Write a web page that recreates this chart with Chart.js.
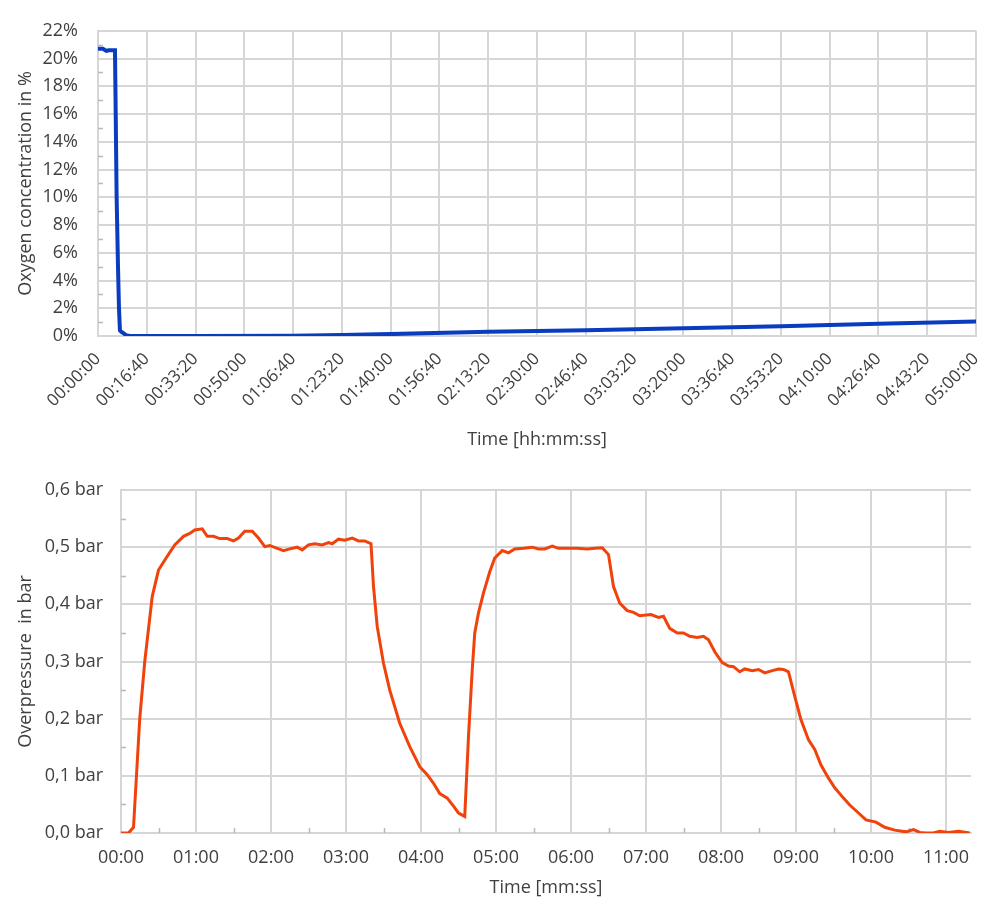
<!DOCTYPE html>
<html>
<head>
<meta charset="utf-8">
<title>Oxygen concentration and overpressure</title>
<script src="https://cdn.jsdelivr.net/npm/chart.js@4.4.1/dist/chart.umd.min.js"></script>
<style>
  html, body { margin: 0; padding: 0; background: #fff; }
  #wrap { position: relative; width: 992px; height: 906px; }
  canvas { position: absolute; left: 0; }
  #oxygenChart { top: 0; }
  #pressureChart { top: 460px; }
</style>
</head>
<body>
<div id="wrap">
  <canvas id="oxygenChart" width="992" height="460"></canvas>
  <canvas id="pressureChart" width="992" height="446"></canvas>
</div>
<script>
// ---------- DATA ----------
// top chart: time in seconds, oxygen in %
const oxygenTimes = [0, 100, 170, 220, 348, 360, 382, 410, 430, 450, 480, 520, 580, 650,
  2000, 4000, 5000, 6000, 8000, 10000, 12000, 14000, 16000, 18000];
const oxygenValues = [20.7, 20.7, 20.55, 20.6, 20.6, 17, 10, 5, 2, 0.4, 0.3, 0.2, 0.05, 0,
  0, 0.02, 0.08, 0.14, 0.3, 0.42, 0.55, 0.7, 0.88, 1.05];
const oxygenMinorTicks = [1, 3, 5, 7, 9, 11, 13, 15, 17, 19, 21];

// bottom chart: time in seconds, overpressure in bar
const pressureTimes = [0, 6, 10, 15, 19, 25, 30, 37, 43, 50, 55, 59, 65, 69, 74, 79, 85, 90, 94, 99,
  105, 110, 115, 119, 125, 130, 135, 141, 145, 150, 155, 161, 166, 169, 174, 179, 185, 190, 195, 200,
  202, 205, 210, 215, 223, 231, 239, 245, 250, 255, 261, 266, 270, 275, 278, 281, 283, 286, 290, 295,
  299, 305, 310, 315, 322, 329, 334, 339, 345, 350, 357, 365, 373, 379, 385, 390, 394, 399, 405, 410,
  415, 424, 430, 434, 439, 445, 450, 455, 461, 466, 470, 475, 481, 486, 490, 495, 499, 505, 510, 515,
  521, 526, 530, 534, 539, 544, 550, 555, 560, 566, 571, 578, 583, 590, 596, 604, 611, 619, 628, 634,
  639, 644, 650, 655, 662, 670, 679];
const pressureValues = [0, 0, 0.01, 0.2, 0.3, 0.414, 0.46, 0.484, 0.504, 0.519, 0.524, 0.53, 0.532, 0.519, 0.519, 0.515, 0.515, 0.511, 0.516, 0.528,
  0.528, 0.516, 0.501, 0.503, 0.498, 0.494, 0.497, 0.5, 0.495, 0.504, 0.506, 0.504, 0.508, 0.506, 0.514, 0.512, 0.516, 0.511, 0.511, 0.506,
  0.431, 0.361, 0.297, 0.25, 0.192, 0.151, 0.116, 0.102, 0.087, 0.069, 0.061, 0.047, 0.035, 0.029, 0.169, 0.286, 0.35, 0.385, 0.42, 0.457,
  0.481, 0.494, 0.49, 0.497, 0.498, 0.5, 0.497, 0.497, 0.502, 0.498, 0.498, 0.498, 0.497, 0.498, 0.499, 0.487, 0.431, 0.402, 0.389, 0.386,
  0.38, 0.382, 0.377, 0.379, 0.358, 0.35, 0.35, 0.344, 0.342, 0.344, 0.338, 0.317, 0.298, 0.292, 0.291, 0.282, 0.287, 0.284, 0.286, 0.28,
  0.284, 0.287, 0.286, 0.282, 0.239, 0.198, 0.163, 0.146, 0.119, 0.096, 0.079, 0.061, 0.049, 0.035, 0.023, 0.019, 0.01, 0.005, 0.002, 0.006,
  0.001, 0, 0, 0.003, 0.001, 0.003, 0];
const pressureMinorY = [0.05, 0.15, 0.25, 0.35, 0.45, 0.55];
const pressureMinorX = [30, 90, 150, 210, 270, 330, 390, 450, 510, 570, 630];

// ---------- HELPERS ----------
const FONT = "'Open Sans', sans-serif";
const TEXT = "#404040";
const GRID = "#d6d6d6";

function pad2(n) { return String(n).padStart(2, "0"); }
function hhmmss(s) {
  return pad2(Math.floor(s / 3600)) + ":" + pad2(Math.floor(s % 3600 / 60)) + ":" + pad2(s % 60);
}
function mmss(s) { return pad2(Math.floor(s / 60)) + ":" + pad2(s % 60); }

// Excel-like inside minor tick marks
const minorTicks = {
  id: "minorTicks",
  beforeDatasetsDraw(chart, args, opts) {
    const { ctx, chartArea, scales } = chart;
    ctx.save();
    ctx.strokeStyle = "#b8b8b8";
    ctx.lineWidth = 1.5;
    ctx.beginPath();
    (opts.y || []).forEach(v => {
      const py = Math.round(scales.y.getPixelForValue(v)) + 0.5;
      ctx.moveTo(chartArea.left, py);
      ctx.lineTo(chartArea.left + 5, py);
    });
    (opts.x || []).forEach(v => {
      const px = Math.round(scales.x.getPixelForValue(v)) + 0.5;
      ctx.moveTo(px, chartArea.bottom);
      ctx.lineTo(px, chartArea.bottom - 5);
    });
    ctx.stroke();
    ctx.restore();
  }
};

// ---------- OXYGEN CHART ----------
new Chart(document.getElementById("oxygenChart"), {
  type: "line",
  data: {
    datasets: [{
      data: oxygenTimes.map((t, i) => ({ x: t, y: oxygenValues[i] })),
      borderColor: "#0a3cc0",
      borderWidth: 4,
      pointRadius: 0,
      tension: 0
    }]
  },
  options: {
    responsive: false,
    animation: false,
    layout: { padding: { left: 15, right: 16, top: 20, bottom: 9 } },
    plugins: {
      legend: { display: false },
      tooltip: { enabled: false },
      minorTicks: { y: oxygenMinorTicks }
    },
    scales: {
      x: {
        type: "linear",
        min: 0,
        max: 18000,
        afterFit: s => { s.height = 115; s.paddingRight = 0; },
        grid: { color: GRID, lineWidth: 2, drawTicks: false },
        border: { color: GRID, width: 2 },
        ticks: {
          stepSize: 1000,
          minRotation: 45,
          maxRotation: 45,
          padding: 13,
          color: TEXT,
          font: { family: FONT, size: 17 },
          callback: v => hhmmss(v)
        },
        title: { display: true, text: "Time [hh:mm:ss]", color: TEXT, font: { family: FONT, size: 18 }, padding: 0 }
      },
      y: {
        min: 0,
        max: 22,
        afterFit: s => { s.width = 83; },
        grid: { color: GRID, lineWidth: 2, drawTicks: false },
        border: { color: GRID, width: 2 },
        ticks: {
          stepSize: 2,
          padding: 20,
          color: TEXT,
          font: { family: FONT, size: 18 },
          callback: v => v + "%"
        },
        title: { display: true, text: "Oxygen concentration in %", color: TEXT, font: { family: FONT, size: 18 }, padding: 0 }
      }
    }
  },
  plugins: [minorTicks]
});

// ---------- PRESSURE CHART ----------
new Chart(document.getElementById("pressureChart"), {
  type: "line",
  data: {
    datasets: [{
      data: pressureTimes.map((t, i) => ({ x: t, y: pressureValues[i] })),
      borderColor: "#f0420a",
      borderWidth: 3,
      pointRadius: 0,
      tension: 0
    }]
  },
  options: {
    responsive: false,
    animation: false,
    layout: { padding: { left: 15, right: 21, top: 30, bottom: 7 } },
    plugins: {
      legend: { display: false },
      tooltip: { enabled: false },
      minorTicks: { y: pressureMinorY, x: pressureMinorX }
    },
    scales: {
      x: {
        type: "linear",
        min: 0,
        max: 680,
        afterFit: s => { s.height = 66; s.paddingRight = 0; s.paddingLeft = 0; },
        grid: { color: GRID, lineWidth: 2, drawTicks: false },
        border: { color: GRID, width: 2 },
        ticks: {
          stepSize: 60,
          includeBounds: false,
          maxRotation: 0,
          autoSkip: false,
          padding: 14,
          color: TEXT,
          font: { family: FONT, size: 18 },
          callback: v => mmss(v)
        },
        title: { display: true, text: "Time [mm:ss]", color: TEXT, font: { family: FONT, size: 18 }, padding: 0 }
      },
      y: {
        min: 0,
        max: 0.6,
        afterFit: s => { s.width = 106; },
        grid: { color: GRID, lineWidth: 2, drawTicks: false },
        border: { color: GRID, width: 2 },
        ticks: {
          stepSize: 0.1,
          padding: 18,
          color: TEXT,
          font: { family: FONT, size: 18 },
          callback: v => v.toFixed(1).replace(".", ",") + " bar"
        },
        title: { display: true, text: "Overpressure  in bar", color: TEXT, font: { family: FONT, size: 18 }, padding: 0 }
      }
    }
  },
  plugins: [minorTicks]
});
</script>
</body>
</html>
